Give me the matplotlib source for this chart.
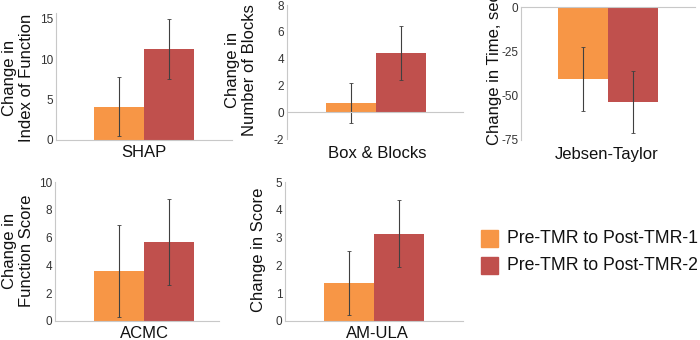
import matplotlib.pyplot as plt
import matplotlib

matplotlib.rcParams['font.family'] = ['Liberation Sans', 'DejaVu Sans']
matplotlib.rcParams['axes.unicode_minus'] = False

# data
tests = ['SHAP', 'Box & Blocks', 'Jebsen-Taylor', 'ACMC', 'AM-ULA']
ylabels = ['Change in\nIndex of Function', 'Change in\nNumber of Blocks',
           'Change in Time, sec', 'Change in\nFunction Score', 'Change in Score']
series = ['Pre-TMR to Post-TMR-1', 'Pre-TMR to Post-TMR-2']
tmr1_mean = [4.1, 0.7, -40.4, 3.6, 1.35]
tmr1_err = [3.65, 1.47, 18.0, 3.35, 1.16]
tmr2_mean = [11.3, 4.4, -53.7, 5.7, 3.15]
tmr2_err = [3.75, 2.0, 17.6, 3.1, 1.22]
ylims = [(0, 15.7), (-2, 8), (-75, 0), (0, 10), (0, 5)]
yticks = [[0, 5, 10, 15], [-2, 0, 2, 4, 6, 8], [-75, -50, -25, 0],
          [0, 2, 4, 6, 8, 10], [0, 1, 2, 3, 4, 5]]

colors = ['#F79646', '#C0504D']
W, H = 700, 340

# pixel layout: axis left, axis right, top, bottom, bar centre
boxes = [(56, 232, 13.3, 140, 144),
         (287, 463, 5, 139, 376),
         (521, 695, 7, 140, 608),
         (55, 219, 182.3, 320.7, 144),
         (285, 463, 182.3, 320.7, 374)]
xlab_pos = [(144, 153), (377, 154), (607, 155), (144, 333), (377, 334)]
ylab_pos = [(18, 78), (241, 70), (494, 69), (18, 251), (258, 250)]

fig = plt.figure(figsize=(7, 3.4), dpi=100)

for i in range(len(tests)):
    l, r, t, b, c = boxes[i]
    ax = fig.add_axes([l / W, 1 - b / H, (r - l) / W, (b - t) / H])
    bw = 50
    ax.bar(-0.5, tmr1_mean[i], width=1, color=colors[0])
    ax.bar(0.5, tmr2_mean[i], width=1, color=colors[1])
    ax.errorbar([-0.5, 0.5], [tmr1_mean[i], tmr2_mean[i]],
                yerr=[tmr1_err[i], tmr2_err[i]], fmt='none',
                ecolor='#404040', elinewidth=0.8, capsize=1.2, capthick=0.6)
    ax.set_xlim((l - c) / bw, (r - c) / bw)
    ax.set_ylim(*ylims[i])
    ax.set_yticks(yticks[i])
    ax.set_xticks([])
    ax.tick_params(axis='y', length=0, labelsize=8.5, labelcolor='#333333', pad=2)
    for s in ['top', 'right']:
        ax.spines[s].set_visible(False)
    ax.spines['bottom'].set_position(('data', 0))
    ax.spines['left'].set_color('#C8C8C8')
    ax.spines['bottom'].set_color('#C8C8C8')
    ax.patch.set_alpha(0)

    fig.text(xlab_pos[i][0] / W, 1 - xlab_pos[i][1] / H, tests[i],
             ha='center', va='center', fontsize=12, color='#111111')
    fig.text(ylab_pos[i][0] / W, 1 - ylab_pos[i][1] / H, ylabels[i],
             ha='center', va='center', rotation=90, fontsize=12,
             color='#111111', linespacing=1.15)

# legend
for k in range(2):
    ytop = [230, 257][k]
    fig.patches.append(plt.Rectangle((481 / W, 1 - (ytop + 17) / H), 17 / W, 17 / H,
                                     transform=fig.transFigure, color=colors[k]))
    fig.text(507 / W, 1 - (ytop + 8.5) / H, series[k], ha='left', va='center',
             fontsize=12.7, color='#111111')

plt.savefig('out.png', dpi=100)
